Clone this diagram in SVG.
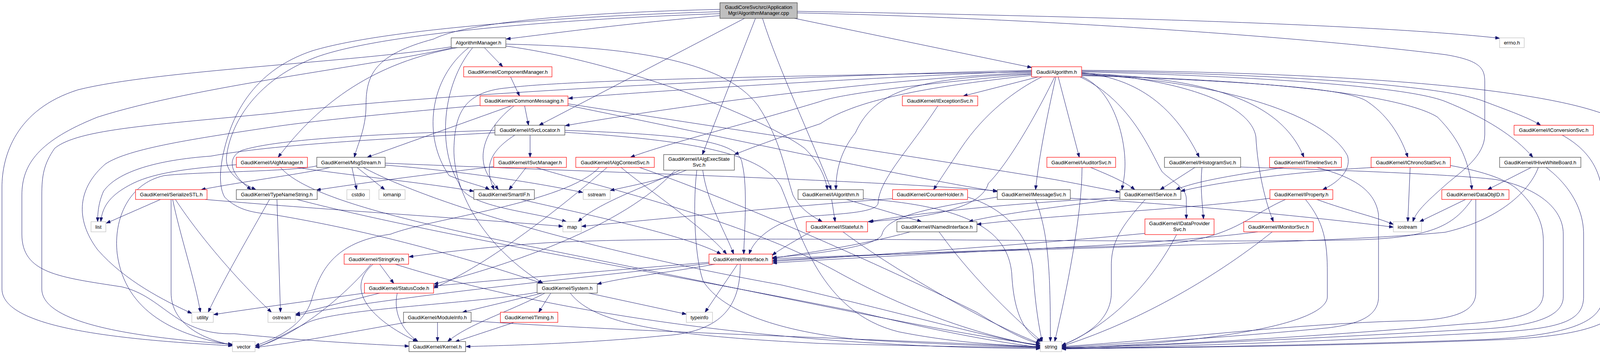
<svg xmlns="http://www.w3.org/2000/svg" width="4157" height="907" viewBox="0 0 4157 907">
<style>
.e{fill:none;stroke:#191970;stroke-width:1;marker-end:url(#a)}
rect{fill:#ffffff;stroke-width:1.2}
.k rect{stroke:#404040}
.r rect{stroke:#ff0000}
.g rect{stroke:#bfbfbf}
.root rect{fill:#bfbfbf;stroke:#404040}
text{font-family:"Liberation Sans",Arial,Helvetica,sans-serif;font-size:13px;fill:#000000;text-anchor:middle}
</style>
<defs>
<marker id="a" viewBox="0 0 11 8" refX="11" refY="4" markerWidth="11" markerHeight="8" markerUnits="userSpaceOnUse" orient="auto">
<path d="M0,0 L11,4 L0,8 z" fill="#191970" stroke="#191970" stroke-width="1"/>
</marker>
</defs>
<rect x="0" y="0" width="4157" height="907" style="fill:#ffffff;stroke:none"/>
<g id="edges">
<path class="e" d="M1843,40 C1600,60 1420,85 1296,100"/>
<path class="e" d="M1843,24 C1500,32 1200,55 1110,100 C960,140 937,190 937,270 C937,330 915,370 907,403"/>
<path class="e" d="M1906,47 L1380,321"/>
<path class="e" d="M1934,47 L1798,396"/>
<path class="e" d="M1952,47 C1990,170 2080,360 2128,486"/>
<path class="e" d="M2034,47 L2641,173"/>
<path class="e" d="M2041,29 C2700,40 3500,60 3839,98"/>
<path class="e" d="M2041,33 C2600,45 3300,90 3700,140 C3790,155 3801,175 3801,210 L3801,345 C3801,400 3740,440 3705,470 C3660,510 3625,540 3617,568"/>
<path class="e" d="M1843,30 C1500,40 1000,70 800,130 C680,170 620,250 590,330 C565,400 555,470 575,505 C610,540 650,545 700,550 C1000,600 1250,680 1388,726"/>
<path class="e" d="M1843,35 C1400,50 950,90 800,150 C650,210 590,320 580,400 C575,440 610,465 655,486"/>
<path class="e" d="M1240,122 L1287,171"/>
<path class="e" d="M1171,122 C960,160 820,260 712,403"/>
<path class="e" d="M1155,120 C900,160 400,180 200,230 C40,280 5,400 5,480 L5,740 C5,840 300,870 595,886"/>
<path class="e" d="M1160,122 C950,170 500,220 250,300 C100,360 56,420 56,500 L56,600 C56,700 150,710 312,735 C420,760 450,860 600,855 C800,875 950,882 1047,887"/>
<path class="e" d="M1200,122 C1100,200 1080,350 1150,450 C1200,470 1240,478 1253,486"/>
<path class="e" d="M1210,122 C1130,220 1120,380 1175,470 C1190,530 1350,540 1450,568"/>
<path class="e" d="M1295,113 C1600,120 1850,150 1940,270 C2000,360 2010,440 2030,500 C2050,540 2090,560 2105,568"/>
<path class="e" d="M1295,118 C1600,160 1950,300 2060,380 C2100,420 2115,460 2118,486"/>
<path class="e" d="M1307,197 L1330,246"/>
<path class="e" d="M1309,271 L940,403"/>
<path class="e" d="M1343,271 L1353,321"/>
<path class="e" d="M1316,271 C1240,330 1220,400 1250,450 C1262,468 1270,478 1276,486"/>
<path class="e" d="M1229,270 C1000,290 800,310 700,325 C500,355 330,380 270,420 C200,480 190,560 250,640 C320,720 420,770 491,803"/>
<path class="e" d="M1454,266 C1800,320 2400,410 2700,460 C2780,475 2830,485 2867,492"/>
<path class="e" d="M1454,270 C1800,340 2300,450 2553,491"/>
<path class="e" d="M1357,346 L1357,403"/>
<path class="e" d="M1318,346 C1250,390 1240,430 1265,486"/>
<path class="e" d="M1267,334 C900,345 700,360 620,385 C585,400 580,440 643,486"/>
<path class="e" d="M1267,340 C1000,355 700,370 540,400 C400,410 300,440 265,490 C252,520 250,545 250,568"/>
<path class="e" d="M1446,334 C1750,345 1895,360 1900,420 C1915,480 1905,600 1904,651"/>
<path class="e" d="M1446,339 C1800,360 1960,400 2000,480 C2050,600 2100,800 2300,850 C2450,880 2580,885 2663,888"/>
<path class="e" d="M1264,427 C1150,440 950,465 810,487"/>
<path class="e" d="M1347,429 L1303,486"/>
<path class="e" d="M1372,429 C1500,470 1900,560 2150,700 C2350,810 2550,870 2663,885"/>
<path class="e" d="M605,422 C500,430 400,440 340,470 C280,500 262,530 258,568"/>
<path class="e" d="M760,429 C900,450 1100,470 1213,490"/>
<path class="e" d="M718,429 C780,500 1000,560 1400,640 C1900,740 2400,850 2663,884"/>
<path class="e" d="M845,429 C780,445 620,465 515,486"/>
<path class="e" d="M901,429 L913,486"/>
<path class="e" d="M914,429 L985,486"/>
<path class="e" d="M930,429 C1100,520 1500,640 2000,730 C2300,800 2550,870 2663,886"/>
<path class="e" d="M986,423 C1200,440 1380,470 1492,493"/>
<path class="e" d="M986,418 C1500,440 2200,460 2553,489"/>
<path class="e" d="M811,425 C750,440 500,440 420,450 C330,470 290,560 300,650 C320,800 450,860 595,884"/>
<path class="e" d="M411,511 L272,572"/>
<path class="e" d="M438,511 L438,750 C438,830 520,870 595,884"/>
<path class="e" d="M442,511 C460,600 500,720 513,800"/>
<path class="e" d="M449,511 C520,620 630,740 695,800"/>
<path class="e" d="M525,511 C800,535 1200,560 1441,580"/>
<path class="e" d="M709,511 L718,800"/>
<path class="e" d="M690,511 C640,600 570,720 533,800"/>
<path class="e" d="M760,511 C1100,600 1700,700 2200,800 C2450,860 2580,880 2663,890"/>
<path class="e" d="M972,677 L1008,726"/>
<path class="e" d="M955,677 C880,740 950,820 1068,875"/>
<path class="e" d="M950,677 C880,760 760,860 653,890"/>
<path class="e" d="M1012,677 C1400,800 2000,890 2663,893"/>
<path class="e" d="M933,751 C800,770 650,790 547,806"/>
<path class="e" d="M972,751 L757,805"/>
<path class="e" d="M1017,751 C1008,790 1020,840 1070,875"/>
<path class="e" d="M1388,751 L1184,800"/>
<path class="e" d="M1395,751 C1300,800 1200,830 1146,875"/>
<path class="e" d="M1410,751 L1379,800"/>
<path class="e" d="M1460,751 C1520,830 1700,860 2100,880 C2400,888 2600,890 2663,891"/>
<path class="e" d="M1507,751 L1757,805"/>
<path class="e" d="M1375,749 C1200,780 850,790 780,830 C720,860 690,880 653,890"/>
<path class="e" d="M1120,826 L1120,875"/>
<path class="e" d="M1206,822 C1600,850 2300,870 2663,890"/>
<path class="e" d="M1040,826 C900,850 750,880 653,890"/>
<path class="e" d="M1316,826 L1165,876"/>
<path class="e" d="M1888,677 L1805,800"/>
<path class="e" d="M1895,677 C1895,760 1870,850 1700,860 C1500,880 1300,885 1193,888"/>
<path class="e" d="M1815,672 C1600,690 1300,715 1110,733"/>
<path class="e" d="M1815,675 C1500,710 1000,760 757,808"/>
<path class="e" d="M1830,677 C1700,700 1600,710 1529,728"/>
<path class="e" d="M1334,511 C1500,550 1750,600 1846,651"/>
<path class="e" d="M1590,429 C1650,480 1800,580 1860,651"/>
<path class="e" d="M1534,429 C1450,520 1100,560 1000,600 C850,620 820,700 800,760 C790,800 760,850 653,886"/>
<path class="e" d="M1554,429 C1450,520 1250,680 1110,738"/>
<path class="e" d="M1637,429 C1900,520 2300,700 2500,800 C2580,850 2630,875 2663,880"/>
<path class="e" d="M1799,436 C1810,520 1860,600 1878,651"/>
<path class="e" d="M1728,436 C1600,580 1300,680 1111,728"/>
<path class="e" d="M1741,436 C1650,480 1530,520 1480,568"/>
<path class="e" d="M1757,436 C1700,460 1620,475 1562,488"/>
<path class="e" d="M1784,436 C1775,500 1775,650 1800,720 C1850,800 2000,850 2200,870 C2450,885 2600,888 2663,890"/>
<path class="e" d="M2401,271 C2330,380 2250,460 2248,520 C2246,545 2150,548 2060,555 C1990,565 1930,610 1918,651"/>
<path class="e" d="M2792,429 C2830,445 2880,465 2905,486"/>
<path class="e" d="M2770,429 C2770,550 2730,750 2700,875"/>
<path class="e" d="M3059,429 L2970,486"/>
<path class="e" d="M3077,429 C3072,480 3078,520 3081,561"/>
<path class="e" d="M3176,428 C3400,435 3700,445 3830,460 C3930,480 4002,530 4002,600 L4002,760 C4002,820 3900,840 3750,845 C3400,865 3000,885 2718,891"/>
<path class="e" d="M3287,429 C3150,450 3060,465 3010,486"/>
<path class="e" d="M3371,429 C3450,450 3520,480 3529,550 L3529,760 C3529,810 3480,830 3400,840 C3200,860 2900,880 2718,890"/>
<path class="e" d="M3518,429 C3300,440 3100,470 3023,490"/>
<path class="e" d="M3610,429 L3604,568"/>
<path class="e" d="M3713,424 C3800,440 3860,460 3890,490 C3940,540 3951,580 3951,620 L3951,750 C3951,800 3900,820 3750,830 C3400,860 3000,885 2718,891"/>
<path class="e" d="M3920,429 L3808,486"/>
<path class="e" d="M3938,429 C3920,480 3850,560 3700,595 C3400,625 2500,640 1978,663"/>
<path class="e" d="M3958,429 C4000,460 4054,520 4054,600 L4054,760 C4054,820 4000,840 3850,850 C3400,875 3000,888 2718,893"/>
<path class="e" d="M3999,346 C4060,380 4103,430 4103,520 L4103,760 C4103,830 4000,860 3800,870 C3300,888 2900,890 2718,893"/>
<path class="e" d="M3752,511 L3634,568"/>
<path class="e" d="M3778,511 L3778,750 C3778,800 3720,820 3600,822 C3300,830 3000,870 2718,888"/>
<path class="e" d="M3768,511 C3720,580 3660,612 3450,615 C2800,625 1800,600 1400,622 C1250,632 1120,648 1047,658"/>
<path class="e" d="M3251,508 C3000,540 2700,550 2501,575"/>
<path class="e" d="M3291,511 C3180,560 3150,625 2900,630 C2500,640 2200,655 1978,667"/>
<path class="e" d="M3342,511 C3390,570 3398,620 3398,700 L3398,760 C3398,830 3100,880 2718,892"/>
<path class="e" d="M3371,511 C3450,540 3520,555 3567,575"/>
<path class="e" d="M2651,511 C2685,600 2689,700 2689,875"/>
<path class="e" d="M2740,508 C3000,520 3400,560 3567,582"/>
<path class="e" d="M2553,505 C2400,530 2270,550 2258,600 C2250,630 2100,650 1977,660"/>
<path class="e" d="M2867,506 C2600,520 2350,545 2225,568"/>
<path class="e" d="M2867,510 C2700,530 2550,550 2480,568"/>
<path class="e" d="M2932,511 C2870,580 2845,620 2845,680 L2845,750 C2845,820 2780,860 2718,885"/>
<path class="e" d="M2285,509 C2000,530 1700,560 1489,580"/>
<path class="e" d="M2477,505 C2590,540 2640,620 2645,700 C2650,780 2660,840 2668,875"/>
<path class="e" d="M2129,511 L2138,568"/>
<path class="e" d="M2167,511 L2359,568"/>
<path class="e" d="M2209,509 C2500,530 2580,600 2590,700 C2595,800 2620,850 2665,876"/>
<path class="e" d="M2075,594 C2030,620 1995,640 1977,654"/>
<path class="e" d="M2158,594 C2300,700 2550,840 2663,880"/>
<path class="e" d="M2330,594 C2200,630 2050,650 1977,662"/>
<path class="e" d="M2404,594 C2480,700 2580,800 2668,876"/>
<path class="e" d="M2931,598 C2600,630 2200,655 1978,670"/>
<path class="e" d="M3012,601 C2950,720 2850,830 2718,885"/>
<path class="e" d="M3220,594 C3100,610 2900,625 2700,635 C2400,650 2150,662 1978,674"/>
<path class="e" d="M3257,594 C3100,720 2900,830 2718,887"/>
<path class="e" d="M2641,182 C2300,195 1700,230 1455,252"/>
<path class="e" d="M2641,186 C2300,200 1800,260 1447,322"/>
<path class="e" d="M2641,180 C2000,195 1100,240 700,290 C400,320 200,330 140,380 C112,420 107,450 107,500 L107,740 C107,830 350,865 595,882"/>
<path class="e" d="M2641,184 C2000,195 1450,205 1300,225 C1180,235 1165,300 1162,380 C1160,500 1250,640 1390,726"/>
<path class="e" d="M2641,190 C2400,210 2150,240 2100,260 C1900,320 1700,370 1614,403"/>
<path class="e" d="M2641,193 C2400,220 2200,250 2100,317 C2000,350 1920,380 1880,396"/>
<path class="e" d="M2658,197 L2466,246"/>
<path class="e" d="M2709,197 L2763,403"/>
<path class="e" d="M2700,197 C2650,300 2580,420 2530,470 C2510,545 2330,560 2222,568"/>
<path class="e" d="M2703,197 C2680,300 2660,400 2651,486"/>
<path class="e" d="M2667,197 C2600,230 2520,290 2460,380 C2420,440 2400,470 2390,486"/>
<path class="e" d="M2641,189 C2350,200 2240,230 2190,340 C2150,390 2140,440 2140,486"/>
<path class="e" d="M2769,186 C2900,200 3000,260 3070,403"/>
<path class="e" d="M2769,188 C3100,200 3280,260 3338,403"/>
<path class="e" d="M2769,187 C3000,200 3200,260 3215,350 C3220,440 3240,520 3260,568"/>
<path class="e" d="M2769,190 C3150,210 3400,300 3450,400 C3460,440 3420,470 3386,486"/>
<path class="e" d="M2769,192 C3200,210 3450,225 3500,260 C3560,300 3590,360 3604,403"/>
<path class="e" d="M2769,184 C3200,195 3600,220 3700,260 C3800,300 3880,350 3924,403"/>
<path class="e" d="M2769,182 C3300,190 3700,220 3800,260 C3880,290 3920,305 3944,321"/>
<path class="e" d="M2769,194 C3300,205 3600,250 3680,300 C3740,360 3762,420 3768,486"/>
<path class="e" d="M2769,180 C3400,185 3900,220 4100,290 C4150,320 4154,350 4154,400 L4154,760 C4154,830 4050,860 3850,870 C3400,888 3000,890 2718,894"/>
<path class="e" d="M2769,196 C2850,230 2880,350 2880,420 C2880,450 2875,470 2872,486"/>
<path class="e" d="M2765,197 C2900,260 2950,400 2975,440 C3000,465 3037,480 3037,510 L3037,561"/>
</g>
<g id="root" class="root"><rect x="1843" y="7" width="198" height="40"/><text x="1942" y="23">GaudiCoreSvc/src/Application</text><text x="1942" y="38">Mgr/AlgorithmManager.cpp</text></g>
<g id="AlgorithmManager_h" class="k"><rect x="1155" y="97" width="140" height="25"/><text x="1225" y="114">AlgorithmManager.h</text></g>
<g id="errno_h" class="g"><rect x="3839" y="97" width="63" height="25"/><text x="3870.5" y="114">errno.h</text></g>
<g id="ComponentManager_h" class="r"><rect x="1187" y="171" width="226" height="26"/><text x="1300" y="188.5">GaudiKernel/ComponentManager.h</text></g>
<g id="Gaudi_Algorithm_h" class="r"><rect x="2641" y="171" width="128" height="26"/><text x="2705" y="188.5">Gaudi/Algorithm.h</text></g>
<g id="CommonMessaging_h" class="r"><rect x="1229" y="246" width="225" height="25"/><text x="1341.5" y="263">GaudiKernel/CommonMessaging.h</text></g>
<g id="IExceptionSvc_h" class="r"><rect x="2310" y="246" width="193" height="25"/><text x="2406.5" y="263">GaudiKernel/IExceptionSvc.h</text></g>
<g id="ISvcLocator_h" class="k"><rect x="1267" y="321" width="179" height="25"/><text x="1356.5" y="338">GaudiKernel/ISvcLocator.h</text></g>
<g id="IConversionSvc_h" class="r"><rect x="3876" y="321" width="203" height="25"/><text x="3977.5" y="338">GaudiKernel/IConversionSvc.h</text></g>
<g id="IAlgManager_h" class="r"><rect x="605" y="403" width="182" height="26"/><text x="696" y="420.5">GaudiKernel/IAlgManager.h</text></g>
<g id="MsgStream_h" class="k"><rect x="811" y="403" width="175" height="26"/><text x="898.5" y="420.5">GaudiKernel/MsgStream.h</text></g>
<g id="ISvcManager_h" class="r"><rect x="1264" y="403" width="186" height="26"/><text x="1357" y="420.5">GaudiKernel/ISvcManager.h</text></g>
<g id="IAlgContextSvc_h" class="r"><rect x="1474" y="403" width="201" height="26"/><text x="1574.5" y="420.5">GaudiKernel/IAlgContextSvc.h</text></g>
<g id="IAlgExecStateSvc_h" class="k"><rect x="1699" y="396" width="181" height="40"/><text x="1789.5" y="412">GaudiKernel/IAlgExecState</text><text x="1789.5" y="427">Svc.h</text></g>
<g id="IAuditorSvc_h" class="r"><rect x="2680" y="403" width="176" height="26"/><text x="2768" y="420.5">GaudiKernel/IAuditorSvc.h</text></g>
<g id="IHistogramSvc_h" class="k"><rect x="2981" y="403" width="195" height="26"/><text x="3078.5" y="420.5">GaudiKernel/IHistogramSvc.h</text></g>
<g id="ITimelineSvc_h" class="r"><rect x="3250" y="403" width="184" height="26"/><text x="3342" y="420.5">GaudiKernel/ITimelineSvc.h</text></g>
<g id="IChronoStatSvc_h" class="r"><rect x="3510" y="403" width="203" height="26"/><text x="3611.5" y="420.5">GaudiKernel/IChronoStatSvc.h</text></g>
<g id="IHiveWhiteBoard_h" class="k"><rect x="3839" y="403" width="208" height="26"/><text x="3943" y="420.5">GaudiKernel/IHiveWhiteBoard.h</text></g>
<g id="SerializeSTL_h" class="r"><rect x="347" y="486" width="183" height="25"/><text x="438.5" y="503">GaudiKernel/SerializeSTL.h</text></g>
<g id="TypeNameString_h" class="k"><rect x="605" y="486" width="207" height="25"/><text x="708.5" y="503">GaudiKernel/TypeNameString.h</text></g>
<g id="cstdio" class="g"><rect x="888" y="486" width="58" height="25"/><text x="917" y="503">cstdio</text></g>
<g id="iomanip" class="g"><rect x="970" y="486" width="67" height="25"/><text x="1003.5" y="503">iomanip</text></g>
<g id="SmartIF_h" class="k"><rect x="1213" y="486" width="155" height="25"/><text x="1290.5" y="503">GaudiKernel/SmartIF.h</text></g>
<g id="sstream" class="g"><rect x="1493" y="486" width="69" height="25"/><text x="1527.5" y="503">sstream</text></g>
<g id="IAlgorithm_h" class="k"><rect x="2043" y="486" width="167" height="25"/><text x="2126.5" y="503">GaudiKernel/IAlgorithm.h</text></g>
<g id="CounterHolder_h" class="r"><rect x="2285" y="486" width="192" height="25"/><text x="2381" y="503">GaudiKernel/CounterHolder.h</text></g>
<g id="IMessageSvc_h" class="k"><rect x="2553" y="486" width="187" height="25"/><text x="2646.5" y="503">GaudiKernel/IMessageSvc.h</text></g>
<g id="IService_h" class="k"><rect x="2867" y="486" width="156" height="25"/><text x="2945" y="503">GaudiKernel/IService.h</text></g>
<g id="IProperty_h" class="r"><rect x="3251" y="486" width="161" height="25"/><text x="3331.5" y="503">GaudiKernel/IProperty.h</text></g>
<g id="DataObjID_h" class="r"><rect x="3691" y="486" width="172" height="25"/><text x="3777" y="503">GaudiKernel/DataObjID.h</text></g>
<g id="list" class="g"><rect x="233" y="568" width="38" height="26"/><text x="252" y="585.5">list</text></g>
<g id="map" class="g"><rect x="1441" y="568" width="47" height="26"/><text x="1464.5" y="585.5">map</text></g>
<g id="IStateful_h" class="r"><rect x="2064" y="568" width="157" height="26"/><text x="2142.5" y="585.5">GaudiKernel/IStateful.h</text></g>
<g id="INamedInterface_h" class="k"><rect x="2296" y="568" width="205" height="26"/><text x="2398.5" y="585.5">GaudiKernel/INamedInterface.h</text></g>
<g id="IDataProviderSvc_h" class="r"><rect x="2931" y="561" width="177" height="40"/><text x="3019.5" y="577">GaudiKernel/IDataProvider</text><text x="3019.5" y="592">Svc.h</text></g>
<g id="IMonitorSvc_h" class="r"><rect x="3184" y="568" width="178" height="26"/><text x="3273" y="585.5">GaudiKernel/IMonitorSvc.h</text></g>
<g id="iostream" class="g"><rect x="3567" y="568" width="72" height="26"/><text x="3603" y="585.5">iostream</text></g>
<g id="StringKey_h" class="r"><rect x="881" y="651" width="165" height="26"/><text x="963.5" y="668.5">GaudiKernel/StringKey.h</text></g>
<g id="IInterface_h" class="r"><rect x="1815" y="651" width="162" height="26"/><text x="1896" y="668.5">GaudiKernel/IInterface.h</text></g>
<g id="StatusCode_h" class="r"><rect x="933" y="726" width="177" height="25"/><text x="1021.5" y="743">GaudiKernel/StatusCode.h</text></g>
<g id="System_h" class="k"><rect x="1375" y="726" width="154" height="25"/><text x="1452" y="743">GaudiKernel/System.h</text></g>
<g id="utility" class="g"><rect x="491" y="800" width="55" height="26"/><text x="518.5" y="817.5">utility</text></g>
<g id="ostream" class="g"><rect x="686" y="800" width="70" height="26"/><text x="721" y="817.5">ostream</text></g>
<g id="ModuleInfo_h" class="k"><rect x="1033" y="800" width="173" height="26"/><text x="1119.5" y="817.5">GaudiKernel/ModuleInfo.h</text></g>
<g id="Timing_h" class="r"><rect x="1281" y="800" width="147" height="26"/><text x="1354.5" y="817.5">GaudiKernel/Timing.h</text></g>
<g id="typeinfo" class="g"><rect x="1757" y="800" width="67" height="26"/><text x="1790.5" y="817.5">typeinfo</text></g>
<g id="vector" class="g"><rect x="595" y="875" width="58" height="26"/><text x="624" y="892.5">vector</text></g>
<g id="Kernel_h" class="k"><rect x="1047" y="875" width="145" height="26"/><text x="1119.5" y="892.5">GaudiKernel/Kernel.h</text></g>
<g id="string" class="g"><rect x="2663" y="875" width="55" height="26"/><text x="2690.5" y="892.5">string</text></g>
</svg>
